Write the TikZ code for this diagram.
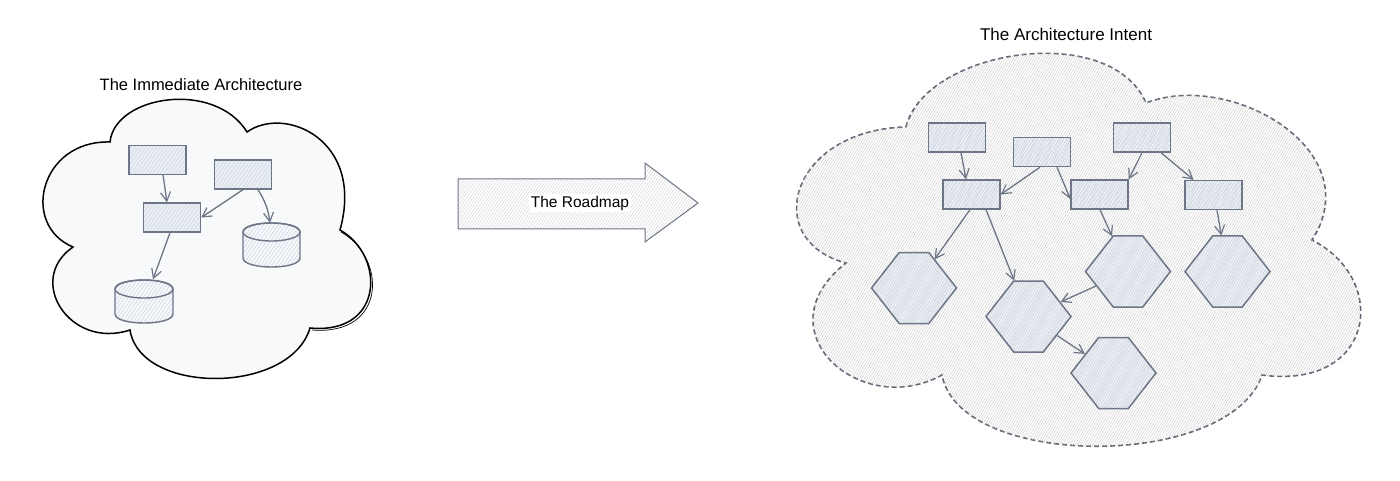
\documentclass[tikz,border=0pt]{standalone}
\usepackage{fontspec}
\setmainfont{Liberation Sans}
\usetikzlibrary{arrows.meta,patterns.meta,shapes.symbols}
\definecolor{slate}{HTML}{6C7687}
\definecolor{hatchblue}{HTML}{CCD7E6}
\definecolor{hexhatch}{HTML}{D3DCE8}
\definecolor{cloudhatch}{HTML}{C4C4C4}
\definecolor{cloudfill}{HTML}{F8F9FA}
\definecolor{dashline}{HTML}{5A6472}
\definecolor{roadhatch}{HTML}{CACACA}
\begin{document}
\begin{tikzpicture}[x=1pt,y=-1pt,
  box/.style={draw=slate, line width=1.4pt, minimum width=57pt, minimum height=29pt, inner sep=0pt,
    preaction={fill=hatchblue, fill opacity=0.25},
    pattern={Lines[angle=55,distance=3pt,line width=0.6pt]}, pattern color=hatchblue},
  hexa/.style={shape=signal, signal to=east and west, signal pointer angle=104, draw=slate,
    line width=1.5pt, minimum width=85pt, minimum height=71pt, inner sep=0pt,
    preaction={fill=hexhatch, fill opacity=0.3},
    pattern={Lines[angle=60,distance=2.6pt,line width=0.6pt]}, pattern color=hexhatch},
  cyl/.style={draw=slate, line width=1.4pt, pattern={Lines[angle=55,distance=3pt,line width=0.6pt]}, pattern color=hatchblue},
  anchorbox/.style={inner sep=0pt, minimum width=57pt, minimum height=44pt},
  link/.style={draw=slate, line width=1.3pt, -{Straight Barb[length=9pt,width=10pt,line width=1.2pt]}},
  title/.style={font=\fontsize{16.5}{19}\selectfont, text=black, inner sep=0pt},
]
\useasboundingbox (0,0) rectangle (1400,481);

% ---------- left cloud ----------
\path[draw=black, line width=1.5pt, fill=cloudfill]
  (110,142) .. controls (115,95) and (215,80) .. (247,132)
  .. controls (285,105) and (365,140) .. (340,230)
  .. controls (385,255) and (385,335) .. (310,328)
  .. controls (290,395) and (140,395) .. (130,330)
  .. controls (70,350) and (25,280) .. (73,247)
  .. controls (20,225) and (40,140) .. (110,142) -- cycle;
\draw[black, line width=0.7pt] (341,232) .. controls (387,258) and (387,336) .. (312,330);
\node[title] (t1) at (201,85) {The Immediate Architecture};

\node[box] (B1) at (157.5,160) {};
\node[box] (B2) at (243,174.5) {};
\node[box] (B3) at (172,217.5) {};

% cylinders
\path[cyl] (243,232) -- (243,258) .. controls (243,270) and (300,270) .. (300,258)
  -- (300,232) .. controls (300,220) and (243,220) .. (243,232) -- cycle;
\draw[slate, line width=1.4pt] (271.5,232) ellipse [x radius=28.5pt, y radius=9pt];
\node[anchorbox] (C1) at (271.5,245) {};
\path[cyl] (115,289) -- (115,314) .. controls (115,326) and (173,326) .. (173,314)
  -- (173,289) .. controls (173,277) and (115,277) .. (115,289) -- cycle;
\draw[slate, line width=1.4pt] (144,289) ellipse [x radius=29pt, y radius=9pt];
\node[anchorbox] (C2) at (144,301.5) {};

\draw[link] ([xshift=5.5pt]B1.south) -- ([xshift=-5pt]B3.north);
\draw[link] (B2.south) -- (B3.east);
\draw[link] ([xshift=15pt]B2.south) to[bend left=12] ([xshift=-1.5pt]C1.north);
\draw[link] ([xshift=-2pt]B3.south) -- ([xshift=9pt]C2.north);

% ---------- roadmap arrow ----------
\path[draw=slate, line width=1pt, pattern={Lines[angle=55,distance=2.5pt,line width=0.35pt]}, pattern color=roadhatch]
  (458,179) -- (645,179) -- (645,163) -- (698,203) -- (645,242) -- (645,229) -- (458,229) -- cycle;
\node[font=\fontsize{15.5}{18}\selectfont, fill=white, inner sep=2pt] (road) at (580,203) {The Roadmap};

% ---------- right cloud ----------
\path[draw=dashline, line width=1.6pt, dash pattern=on 5pt off 3pt, fill=white]
  (906,127) .. controls (925,50) and (1110,20) .. (1146,103)
  .. controls (1230,70) and (1370,150) .. (1312,240)
  .. controls (1390,280) and (1375,390) .. (1262,375)
  .. controls (1230,470) and (960,470) .. (942,375)
  .. controls (860,420) and (760,330) .. (846,263)
  .. controls (760,240) and (790,130) .. (906,127) -- cycle;
\path[pattern={Lines[angle=60,distance=2.2pt,line width=0.35pt]}, pattern color=cloudhatch]
  (906,127) .. controls (925,50) and (1110,20) .. (1146,103)
  .. controls (1230,70) and (1370,150) .. (1312,240)
  .. controls (1390,280) and (1375,390) .. (1262,375)
  .. controls (1230,470) and (960,470) .. (942,375)
  .. controls (860,420) and (760,330) .. (846,263)
  .. controls (760,240) and (790,130) .. (906,127) -- cycle;
\node[title, font=\fontsize{17}{20}\selectfont] (t2) at (1066,34) {The Architecture Intent};

\node[box] (R1) at (957,137.5) {};
\node[box] (R2) at (1042,152) {};
\node[box] (R3) at (1142,137.5) {};
\node[box] (R4) at (971.5,194.5) {};
\node[box] (R5) at (1099.5,194.5) {};
\node[box] (R6) at (1213.5,195) {};

\node[hexa] (H1) at (914,288) {};
\node[hexa] (H2) at (1028.5,316.5) {};
\node[hexa] (H3) at (1128,271.5) {};
\node[hexa] (H4) at (1227.5,271.5) {};
\node[hexa] (H5) at (1113.5,373) {};

\draw[link] ([xshift=4pt]R1.south) -- ([xshift=-5.5pt]R4.north);
\draw[link] ([xshift=-2pt]R2.south) -- (R4.east);
\draw[link] ([xshift=15pt]R2.south) -- ([yshift=-4.5pt]R5.west);
\draw[link] (R3.south) -- (R5.north east);
\draw[link] ([xshift=19pt]R3.south) -- ([xshift=-20pt]R6.north);
\draw[link] ([xshift=-1.5pt]R4.south) -- (H1);
\draw[link] ([xshift=14.5pt]R4.south) -- (H2);
\draw[link] ([xshift=0.5pt]R5.south) -- (H3);
\draw[link] ([xshift=3.5pt]R6.south) -- (H4);
\draw[link] (H3) -- (H2);
\draw[link] (H2) -- (H5);
\end{tikzpicture}
\end{document}
